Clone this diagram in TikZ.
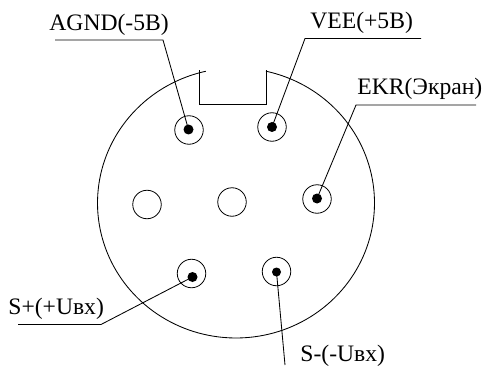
\documentclass[tikz,border=0pt]{standalone}
\usepackage{fontspec}
\setmainfont{Liberation Serif}
\begin{document}
\begin{tikzpicture}[x=1pt,y=-1pt,line width=0.85pt,
  pinring/.style={circle,draw,inner sep=0pt,minimum size=28.5pt,line width=0.8pt},
  pindot/.style={circle,fill=black,inner sep=0pt,minimum size=10pt},
  lbl/.style={anchor=base west,inner sep=0pt,font=\fontsize{23.6}{25}\selectfont}]
\useasboundingbox (0,0) rectangle (486,366);
% shell
\draw plot[domain=-77.5:257.4,samples=160] ({236+138.5*cos(\x)},{203+135*sin(\x)});
\coordinate (arcR) at (266,70);
\coordinate (nA) at (199,70.5);
\coordinate (nB) at (199,104);
\coordinate (nC) at (266,104);
\draw (nA) -- (nB) -- (nC) -- (arcR);
% pins
\node[pinring] (r1) at (189,130) {};
\node[pindot] (d1) at (188.5,129.5) {};
\node[pinring] (r2) at (272,127) {};
\node[pindot] (d2) at (272,127) {};
\node[pinring] (r3) at (317,199) {};
\node[pindot] (d3) at (317,198.5) {};
\node[pinring] (r4) at (191.5,273.5) {};
\node[pindot] (d4) at (192.5,277) {};
\node[pinring] (r5) at (276.5,271.5) {};
\node[pindot,minimum size=9pt] (d5) at (276.5,272) {};
\node[pinring] (r6) at (147,204.5) {};
\node[pinring] (r7) at (232,202) {};
% labels
\node[lbl] (t1) at (49,31) {AGND(-5B)};
\node[lbl] (t2) at (310,29) {VEE(+5B)};
\node[lbl] (t3) at (357,95) {EKR(Экран)};
\node[lbl] (t4) at (8,314) {S+(+Uвх)};
\node[lbl] (t5) at (300,361) {S-(-Uвх)};
% leaders
\coordinate (a0) at (55,40);  \coordinate (a1) at (163,40);
\coordinate (b0) at (421,38.5); \coordinate (b1) at (305,38.5);
\coordinate (c0) at (476,105); \coordinate (c1) at (356,105);
\coordinate (e0) at (18,324.5); \coordinate (e1) at (101,324.5);
\coordinate (f1) at (285,365);
\draw (a0) -- (a1) -- (d1.center);
\draw (b0) -- (b1) -- (d2.center);
\draw (c0) -- (c1) -- (d3.center);
\draw (e0) -- (e1) -- (d4.center);
\draw (f1) -- (d5.center);
\end{tikzpicture}
\end{document}
